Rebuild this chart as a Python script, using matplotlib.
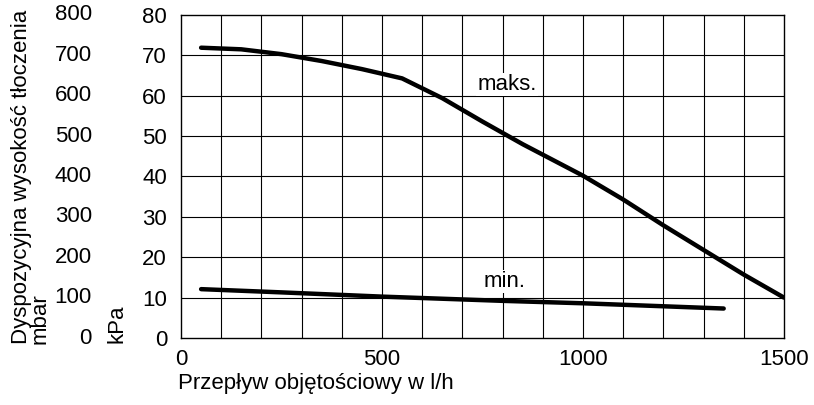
import matplotlib
matplotlib.use("Agg")
import matplotlib.pyplot as plt
import matplotlib.transforms as mtransforms

plt.rcParams['font.family'] = ['Liberation Sans', 'DejaVu Sans']

# Data (flow l/h -> head kPa)
flow_max = [50, 150, 250, 350, 450, 550, 650, 750, 850, 1000, 1100, 1200, 1300, 1400, 1500]
head_max = [71.9, 71.5, 70.3, 68.6, 66.6, 64.3, 59.4, 53.6, 48.0, 40.2, 34.3, 27.9, 21.8, 15.7, 10.0]
flow_min = [50, 250, 500, 800, 1000, 1350]
head_min = [12.1, 11.3, 10.25, 9.2, 8.6, 7.3]

kpa_ticks = [0, 10, 20, 30, 40, 50, 60, 70, 80]
mbar_labels = ['0', '100', '200', '300', '400', '500', '600', '700', '800']
x_ticks = [0, 500, 1000, 1500]

FS = 16

fig = plt.figure(figsize=(8.14, 4.05), dpi=100)
ax = fig.add_axes([181/814, 1-338/405, (784-181)/814, (338-15)/405])

ax.set_xlim(0, 1500)
ax.set_ylim(0, 80)

# grid
for gx in range(100, 1500, 100):
    ax.axvline(gx, color='black', lw=0.8, zorder=1)
for gy in range(10, 80, 10):
    ax.axhline(gy, color='black', lw=0.8, zorder=1)
for s in ax.spines.values():
    s.set_linewidth(1.0)

ax.plot(flow_max, head_max, color='black', lw=3.2, solid_capstyle='round', zorder=3)
ax.plot(flow_min, head_min, color='black', lw=3.2, solid_capstyle='round', zorder=3)

ax.text(811, 62.8, 'maks.', fontsize=FS, ha='center', va='center', zorder=4,
        bbox=dict(facecolor='white', edgecolor='none', pad=1))
ax.text(806, 14.0, 'min.', fontsize=FS, ha='center', va='center', zorder=4,
        bbox=dict(facecolor='white', edgecolor='none', pad=1))

ax.set_xticks(x_ticks)
ax.set_xticklabels([str(v) for v in x_ticks], fontsize=FS)
ax.set_yticks(kpa_ticks)
ax.set_yticklabels([str(v) for v in kpa_ticks], fontsize=FS)
ax.tick_params(axis='x', length=0, pad=8)
ax.tick_params(axis='y', length=0, pad=10)

# secondary mbar labels
trans = mtransforms.blended_transform_factory(fig.transFigure, ax.transData)
for v, lab in zip(kpa_ticks, mbar_labels):
    fig.text(92/814, v, lab, fontsize=FS, ha='right', va='center', transform=trans)

fig.text(117/814, 1-343/405, 'kPa', fontsize=FS, rotation=90, ha='center', va='bottom')
fig.text(31/814, 1-344/405, 'Dyspozycyjna wysokość tłoczenia\nmbar', fontsize=FS,
         rotation=90, ha='center', va='bottom', linespacing=0.85, multialignment='left')

fig.text(178/814, 1-383/405, 'Przepływ objętościowy w l/h', fontsize=FS, ha='left', va='center')

fig.savefig('out.png', dpi=100)
